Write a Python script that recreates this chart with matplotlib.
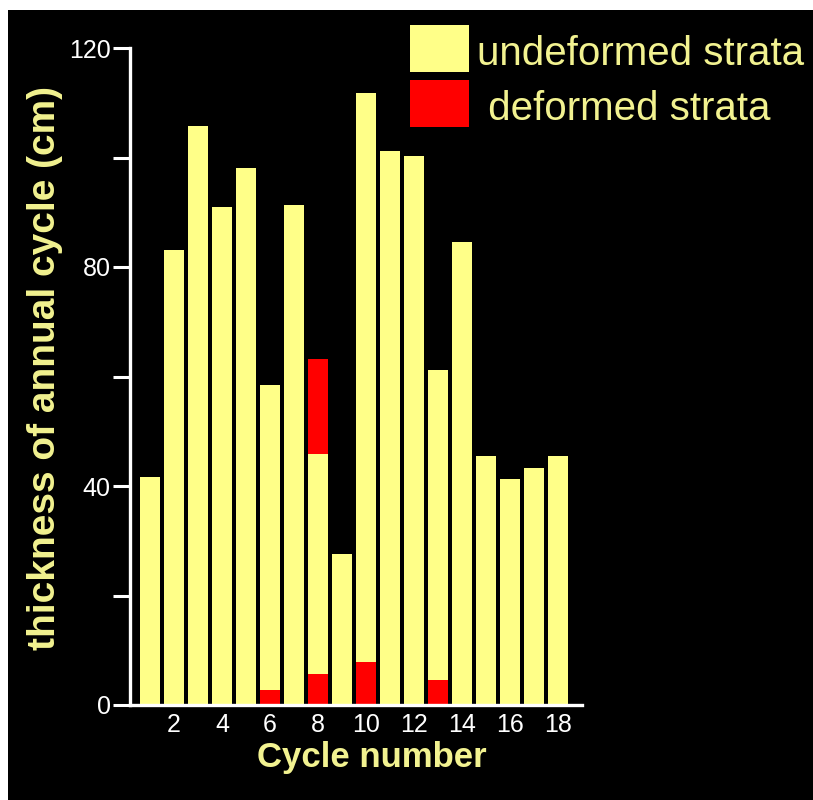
import numpy as np
import matplotlib
matplotlib.use('Agg')
import matplotlib.pyplot as plt
from matplotlib.patches import Rectangle

# thickness of each annual cycle (cm)
cycles = np.arange(1, 19)
lower_deformed = [0, 0, 0, 0, 0, 2.8, 0, 5.7, 0, 7.9, 0, 0, 4.6, 0, 0, 0, 0, 0]
undeformed = [41.6, 83.1, 105.8, 91.0, 98.0, 55.6, 91.3, 40.1, 27.6, 103.9,
              101.2, 100.3, 56.6, 84.6, 45.5, 41.3, 43.3, 45.5]
upper_deformed = [0, 0, 0, 0, 0, 0, 0, 17.4, 0, 0, 0, 0, 0, 0, 0, 0, 0, 0]

xticks = [2, 4, 6, 8, 10, 12, 14, 16, 18]
yticks = [0, 20, 40, 60, 80, 100, 120]
ylabels = ['0', '', '40', '', '80', '', '120']
legend_labels = ['undeformed strata', ' deformed strata']

yellow = '#ffff88'
red = '#ff0000'
text_yellow = '#f2f290'

W, H = 813, 800
fig = plt.figure(figsize=(W / 100, H / 100), dpi=100, facecolor='white')
# black panel with thin white margin on the top and left
fig.patches.append(Rectangle((8 / W, 0), 1, 1 - 10 / H, transform=fig.transFigure,
                             facecolor='black', edgecolor='none', zorder=-10))

ax = fig.add_axes([130 / W, 1 - 705 / H, 452 / W, 657 / H])
ax.set_facecolor('black')

lower = np.array(lower_deformed)
mid = np.array(undeformed)
ax.bar(cycles, lower, width=0.8, color=red, edgecolor='none')
ax.bar(cycles, mid, width=0.8, bottom=lower, color=yellow, edgecolor='none')
ax.bar(cycles, upper_deformed, width=0.8, bottom=lower + mid, color=red, edgecolor='none')

ax.set_xlim(0.17, 19.0)
ax.set_ylim(0, 120)

for s in ['top', 'right']:
    ax.spines[s].set_visible(False)
for s in ['left', 'bottom']:
    ax.spines[s].set_color('white')
    ax.spines[s].set_linewidth(2.4)

ax.set_yticks(yticks)
ax.set_yticklabels(ylabels)
ax.set_xticks(xticks)
ax.tick_params(axis='y', colors='white', length=12, width=2.2, pad=2, labelsize=18)
ax.tick_params(axis='x', colors='white', length=0, pad=6, labelsize=18)
for lab in ax.get_xticklabels() + ax.get_yticklabels():
    lab.set_family('Liberation Sans')
    lab.set_fontweight('medium')

ax.set_xlabel('Cycle number', color=text_yellow, fontsize=25, fontweight='bold',
              family='Liberation Sans')
ax.xaxis.set_label_coords(0.535, -0.055)
ax.set_ylabel('thickness of annual cycle (cm)', color=text_yellow, fontsize=28,
              fontweight='bold', family='Liberation Sans')
ax.yaxis.set_label_coords(-0.148, 0.513)

# legend boxes and labels
box_colors = [yellow, red]
box_tops = [25, 80]
for c, top, lab in zip(box_colors, box_tops, legend_labels):
    fig.patches.append(Rectangle((410 / W, 1 - (top + 47) / H), 59 / W, 47 / H,
                                 transform=fig.transFigure, facecolor=c,
                                 edgecolor='none'))
    fig.text(477 / W, 1 - (top + 40) / H, lab, color=text_yellow, fontsize=29,
             family='Liberation Sans', va='baseline', ha='left')

fig.savefig('out.png', dpi=100, facecolor=fig.get_facecolor())
